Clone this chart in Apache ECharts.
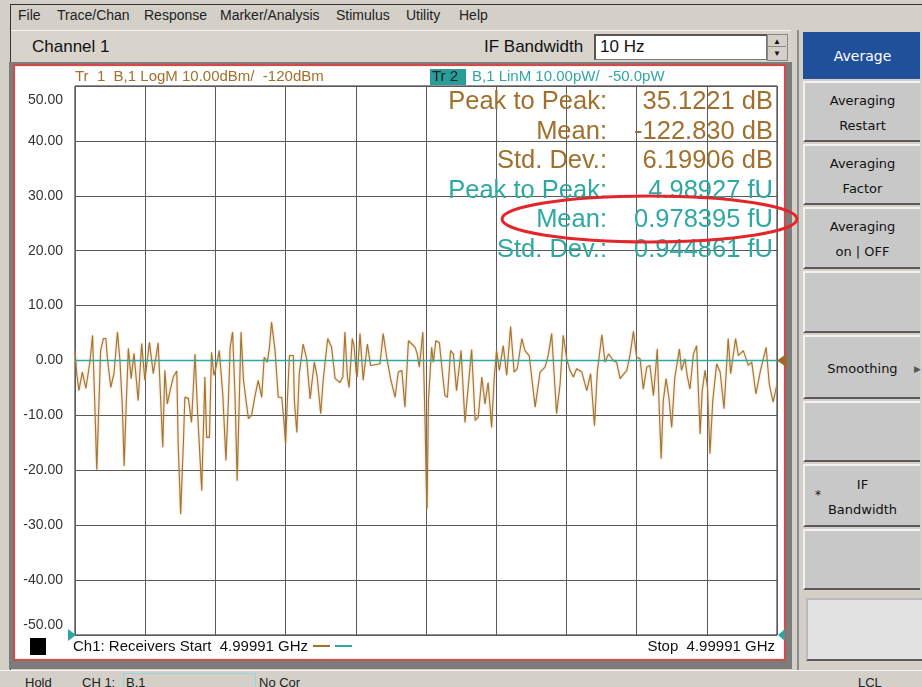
<!DOCTYPE html>
<html>
<head>
<meta charset="utf-8">
<script src="https://cdn.jsdelivr.net/npm/echarts@6/dist/echarts.min.js"></script>
<style>
  html, body { margin: 0; padding: 0; }
  body { width: 922px; height: 687px; position: relative; overflow: hidden; background: #d4d0c8; font-family: "Liberation Sans", Arial, sans-serif; }
  .abs { position: absolute; }
  .menu { top: 7px; font-size: 14px; color: #222; }
  .toolbar { left: 11px; top: 30px; width: 780px; height: 32px; background: #d8d4cc; border-top: 1px solid #f4f4f4; }
  .frame { left: 9px; top: 62px; width: 783px; height: 607px; background: #7c7c7c; }
  .panel { left: 13px; top: 64px; width: 769px; height: 593px; background: #fff; border: 2px solid #d24a4a; box-shadow: inset 0 0 0 1px #eee; }
  .side { left: 797px; top: 30px; width: 125px; height: 640px; background: #d4d0c8; border-left: 2px solid #8c8c8c; }
  .btn { position: absolute; left: 803px; width: 117px; background: #c8c8c8; border-top: 2px solid #f2f2f2; border-left: 2px solid #f2f2f2; border-bottom: 2px solid #5a5a5a; box-sizing: border-box;
         font-family: "DejaVu Sans", sans-serif; font-size: 13px; color: #111; text-align: center; display: flex; flex-direction: column; justify-content: center; line-height: 25px; padding-top: 2px; }
  .status { left: 0; top: 670px; width: 922px; height: 17px; background: #d4d0c8; border-top: 1px solid #f4f4f4; font-size: 13px; color: #222; }
  #chart { position: absolute; left: 0; top: 0; width: 922px; height: 687px; }
</style>
</head>
<body>
<div class="abs" style="left:10px;top:4px;width:912px;height:1px;background:#333"></div>
<div class="abs" style="left:10px;top:4px;width:1px;height:683px;background:#333"></div>
<div class="abs menu" style="left:18px">File</div>
<div class="abs menu" style="left:57px">Trace/Chan</div>
<div class="abs menu" style="left:144px">Response</div>
<div class="abs menu" style="left:220px">Marker/Analysis</div>
<div class="abs menu" style="left:336px">Stimulus</div>
<div class="abs menu" style="left:406px">Utility</div>
<div class="abs menu" style="left:459px">Help</div>

<div class="abs toolbar"></div>
<div class="abs" style="left:32px;top:37px;font-size:17px;color:#111">Channel 1</div>
<div class="abs" style="left:484px;top:37px;font-size:17px;color:#111">IF Bandwidth</div>
<div class="abs" style="left:594px;top:34px;width:170px;height:23px;background:#fff;border:1px solid #777;border-top:2px solid #555;border-left:2px solid #555"></div>
<div class="abs" style="left:600px;top:37px;font-size:17px;color:#111">10 Hz</div>
<div class="abs" style="left:767px;top:34px;width:19px;height:25px;background:#d4d0c8;border:1px solid #888"></div>
<div class="abs" style="left:768px;top:46px;width:18px;height:1px;background:#888"></div>
<div class="abs" style="left:773px;top:37px;font-size:8px;color:#111">&#9650;</div>
<div class="abs" style="left:773px;top:49px;font-size:8px;color:#111">&#9660;</div>

<div class="abs frame"></div>
<div class="abs panel"></div>

<div class="abs side"></div>
<div class="btn" style="top:32px;height:47px;background:#21509a;color:#fff;font-size:14px;border-color:#21509a">Average</div>
<div class="btn" style="top:81px;height:61px">Averaging<br>Restart</div>
<div class="btn" style="top:144px;height:61px">Averaging<br>Factor</div>
<div class="btn" style="top:207px;height:62px">Averaging<br>on | OFF</div>
<div class="btn" style="top:271px;height:62px"></div>
<div class="btn" style="top:335px;height:64px">Smoothing<span style="position:absolute;right:-1px;top:20px;font-size:9px;color:#555">&#9654;</span></div>
<div class="btn" style="top:401px;height:61px"></div>
<div class="btn" style="top:464px;height:63px">IF<br>Bandwidth<span style="position:absolute;left:10px;top:17px;font-size:12px">*</span></div>
<div class="btn" style="top:529px;height:61px"></div>
<div class="btn" style="top:598px;left:806px;width:116px;height:63px;background:#e2e2e2;border-top-color:#bbb;border-left-color:#bbb"></div>

<div class="abs status"></div>
<div class="abs" style="left:25px;top:675px;font-size:13px;color:#222">Hold</div>
<div class="abs" style="left:82px;top:675px;font-size:13px;color:#222">CH 1:</div>
<div class="abs" style="left:123px;top:673px;width:131px;height:16px;border:1px solid #8fd8e0"></div>
<div class="abs" style="left:126px;top:675px;font-size:13px;color:#222">B,1</div>
<div class="abs" style="left:259px;top:675px;font-size:13px;color:#222">No Cor</div>
<div class="abs" style="left:858px;top:675px;font-size:13px;color:#222">LCL</div>

<div id="chart"></div>

<script>
// sweep point number (0..200, 201-point sweep) and trace values
const sweepPoint = [0, 0.5, 1.1, 2.1, 3.1, 4.3, 5.0, 5.7, 6.2, 6.6, 7.3, 8.1, 8.8, 9.2, 10.2, 11.1, 12.1, 12.8, 13.5, 14.0,
  14.6, 15.2, 16.0, 16.8, 18.0, 19.0, 19.9, 21.2, 22.3, 23.7, 25.0, 25.6, 26.3, 27.1, 28.0, 29.0, 29.4, 30.1, 30.9, 31.3,
  32.3, 33.2, 34.2, 34.9, 36.1, 37.0, 37.5, 38.3, 38.9, 39.6, 40.2, 41.1, 42.1, 43.0, 43.7, 44.2, 44.9, 45.6, 46.2, 46.8,
  47.3, 48.0, 49.4, 50.3, 51.3, 52.2, 53.2, 53.9, 54.8, 55.4, 56.0, 57.0, 57.9, 58.9, 59.5, 60.0, 60.5, 61.1, 62.2, 62.5,
  63.2, 63.9, 65.0, 66.0, 67.0, 67.4, 68.2, 69.0, 70.0, 70.7, 72.0, 73.1, 74.1, 75.5, 76.3, 76.9, 77.6, 78.1, 79.0, 79.5,
  80.1, 80.4, 81.2, 82.1, 83.3, 84.2, 86.9, 87.8, 88.8, 89.9, 91.2, 92.1, 93.1, 94.0, 95.0, 96.9, 97.5, 98.1, 99.1, 99.7,
  100.1, 100.3, 100.7, 101.6, 102.1, 102.8, 103.8, 104.8, 105.4, 106.1, 107.0, 107.8, 108.7, 110.0, 111.1, 112.1, 113.0, 114.0, 114.9, 115.9,
  116.8, 117.7, 118.7, 119.4, 120.1, 120.9, 122.0, 123.0, 124.1, 125.1, 126.0, 127.3, 128.2, 129.4, 131.1, 132.5, 133.9, 134.8, 135.8, 137.2,
  138.2, 139.1, 140.1, 141.0, 142.0, 142.9, 144.4, 145.8, 146.9, 148.0, 148.8, 150.1, 151.0, 152.0, 153.4, 154.3, 155.3, 157.2, 158.1, 159.1,
  160.0, 161.0, 161.9, 162.9, 163.8, 164.8, 165.9, 166.5, 167.0, 167.6, 168.4, 169.2, 170.0, 170.9, 172.2, 172.8, 173.8, 174.4, 175.2, 176.2,
  177.1, 178.1, 178.7, 179.5, 180.2, 180.9, 181.7, 182.8, 183.8, 184.9, 186.1, 186.8, 188.2, 189.0, 190.4, 191.8, 192.8, 194.0, 195.3, 196.9,
  197.8, 198.9, 199.9, 200];
// Tr 1, LogM (dB relative to reference)
const logMag = [1.8, -2.4, -5.5, -2.1, -5.1, 0, 4.6, -9.1, -19.9, -12.2, 1.8, 4.0, 4.0, 0.6, -4.9, -2.4, 5.2, 0, -8.5, -19.2,
  -7.9, 2.2, -3.3, 1.3, -7.3, 3.1, -3.6, 3.3, -2.4, 3.2, -15.8, -1.8, -7.9, -5.5, -3.0, -1.9, -15.2, -28, -14.6, -6.7,
  -6.9, -11.3, 1.2, -9.1, -23.7, -3.0, -14, -14, 1.5, -2.7, -1.2, 1.8, -6.1, -18.2, -7.3, 2.4, 5.2, -6.7, -21.9, -7.3,
  5.2, -3.6, -10.6, -10.0, -6.4, -3.6, -6.7, 0.6, -0.3, 2.4, 7.0, 1.8, -6.7, -6.7, -10.9, -15.2, -7.3, 0.9, 0.9, -7.3,
  -13.1, -2.4, 3.0, 0.3, -7.0, -4.6, -0.3, -3.0, -9.7, -3.6, 4.0, 2.4, -3.3, -4.0, -3.0, 5.2, -3.0, -4.9, 4.0, 2.7,
  -2.1, -3.0, 4.9, -3.6, 3.0, -0.9, -0.6, 4.9, 0.6, -3.3, -6.7, -2.1, -1.8, -8.5, 3.6, 2.4, 1.2, -1.2, 5.2, -10.3,
  -23.1, -27, -7.3, 2.4, -0.3, 3.6, 3.3, -3.0, -6.4, -6.7, 1.8, 1.2, -5.5, 1.8, -11.3, -4.3, 2.0, -10.9, -10.3, -3.0,
  -7.9, -4.0, -12.2, -3.6, 1.8, -1.8, 2.7, -2.7, 6.2, -2.1, -1.5, 4.0, 1.8, 0.9, -8.5, -2.1, -1.2, 0.9, 4.9, -9.7,
  -4.3, 4.6, 0.3, -1.8, -3.0, -1.5, -2.1, -5.5, -2.4, -11.9, -2.1, 4.7, -0.3, 1.2, 0, -0.3, -3.3, -1.8, 0.9, 5.3,
  0.6, 0.3, -5.2, -1.2, -0.9, -6.4, 2.1, -9.7, -17.9, -7.3, -3.3, -6.7, -12.2, -3.0, 2.1, -1.8, 0.3, -2.7, -5.2, 1.2,
  2.7, -13.4, -5.5, -1.8, -4.9, -17.0, -7.3, -0.6, -2.1, -8.8, 4.0, -2.4, 4.0, 0.9, 1.8, -0.9, -0.3, -6.1, -1.8, 2.4,
  -4.3, -7.6, -4.6, -5.0];
// Tr 2, LinM (pW), flat at its mean across the sweep
const linSweep = [0, 200];
const linMag = [0.000978, 0.000978];

const yTicks = { min: -50, max: 50, step: 10 };
const statLabels = ['Peak to Peak:', 'Mean:', 'Std. Dev.:', 'Peak to Peak:', 'Mean:', 'Std. Dev.:'];
const statValues = ['35.1221 dB', '-122.830 dB', '6.19906 dB', '4.98927 fU', '0.978395 fU', '0.944861 fU'];

const BROWN = '#a0702c';
const TEAL = '#2fa8a2';
const FONT = '"Liberation Sans", Arial';

const chart = echarts.init(document.getElementById('chart'));

const statGraphics = [];
statLabels.forEach((lab, i) => {
  const col = i < 3 ? BROWN : TEAL;
  const y = 102 + i * 29.5;
  statGraphics.push({ type: 'text', id: 'lab' + i, x: 607, y: y, z: 10,
    style: { text: lab, fill: col, font: '25.5px ' + FONT, textAlign: 'right', textVerticalAlign: 'middle' } });
  statGraphics.push({ type: 'text', id: 'val' + i, x: 773, y: y, z: 10,
    style: { text: statValues[i], fill: col, font: '25.5px ' + FONT, textAlign: 'right', textVerticalAlign: 'middle' } });
});

chart.setOption({
  animation: false,
  grid: { left: 75, top: 86, width: 702, height: 549, show: true, backgroundColor: '#fff', borderColor: '#222', borderWidth: 1 },
  xAxis: {
    type: 'value', min: 0, max: 200, interval: 20,
    axisLine: { show: false }, axisTick: { show: false }, axisLabel: { show: false },
    splitLine: { show: true, lineStyle: { color: '#5a5a5a', width: 1 } }
  },
  yAxis: [{
    type: 'value', min: yTicks.min, max: yTicks.max, interval: yTicks.step,
    axisLine: { show: false }, axisTick: { show: false },
    splitLine: { show: true, lineStyle: { color: '#5a5a5a', width: 1 } },
    axisLabel: {
      formatter: v => v === yTicks.max ? '{hi|' + v.toFixed(2) + '}' : v === yTicks.min ? '{lo|' + v.toFixed(2) + '}' : v.toFixed(2),
      color: '#333', fontSize: 14, fontFamily: 'Liberation Sans', margin: 12,
      verticalAlignMaxLabel: 'top', verticalAlignMinLabel: 'bottom',
      rich: {
        hi: { color: '#333', fontSize: 14, fontFamily: 'Liberation Sans', padding: [7, 0, 0, 0] },
        lo: { color: '#333', fontSize: 14, fontFamily: 'Liberation Sans', padding: [0, 0, 3, 0] }
      }
    }
  }, {
    type: 'value', min: -50, max: 50, show: false
  }],
  series: [{
    type: 'line', name: 'Tr 1', xAxisIndex: 0, yAxisIndex: 0,
    data: sweepPoint.map((p, i) => [p, logMag[i]]),
    showSymbol: false,
    lineStyle: { color: '#a6742f', width: 1.1, shadowColor: 'rgba(200,165,110,0.8)', shadowBlur: 2 },
    z: 3
  }, {
    type: 'line', name: 'Tr 2', yAxisIndex: 1,
    data: linSweep.map((p, i) => [p, linMag[i]]),
    showSymbol: false,
    lineStyle: { color: TEAL, width: 1.3 },
    z: 4
  }],
  graphic: [
    { type: 'text', id: 'hdr1', x: 75, y: 77, z: 10, style: { text: 'Tr  1  B,1 LogM 10.00dBm/  -120dBm', fill: BROWN, font: '15px ' + FONT, textVerticalAlign: 'middle' } },
    { type: 'rect', id: 'tr2box', shape: { x: 430, y: 69, width: 36, height: 16 }, z: 9, style: { fill: '#2a9d98' } },
    { type: 'text', id: 'tr2txt', x: 432, y: 77, z: 11, style: { text: 'Tr 2', fill: '#0d2222', font: '15px ' + FONT, textVerticalAlign: 'middle' } },
    { type: 'text', id: 'hdr2', x: 472, y: 77, z: 10, style: { text: 'B,1 LinM 10.00pW/  -50.0pW', fill: TEAL, font: '15px ' + FONT, textVerticalAlign: 'middle' } },
    ...statGraphics,
    { type: 'ellipse', id: 'ring', shape: { cx: 649.5, cy: 219, rx: 147.5, ry: 23 }, style: { fill: null, stroke: '#e3262b', lineWidth: 3 }, z: 20 },
    { type: 'rect', id: 'sq', shape: { x: 30, y: 638, width: 16, height: 17 }, style: { fill: '#000' } },
    { type: 'text', id: 'start', x: 73, y: 647, style: { text: 'Ch1: Receivers Start  4.99991 GHz', fill: '#111', font: '15px ' + FONT, textVerticalAlign: 'middle' } },
    { type: 'line', id: 'dash1', shape: { x1: 313, y1: 646, x2: 330, y2: 646 }, style: { stroke: BROWN, lineWidth: 2 } },
    { type: 'line', id: 'dash2', shape: { x1: 335, y1: 646, x2: 352, y2: 646 }, style: { stroke: TEAL, lineWidth: 2 } },
    { type: 'text', id: 'stop', x: 775, y: 647, style: { text: 'Stop  4.99991 GHz', fill: '#111', font: '15px ' + FONT, textAlign: 'right', textVerticalAlign: 'middle' } }
  ]
});

// reference markers placed from the axis scales
const refY = chart.convertToPixel({ yAxisIndex: 0 }, 0);
const x0 = chart.convertToPixel({ xAxisIndex: 0 }, 0);
const x1 = chart.convertToPixel({ xAxisIndex: 0 }, 200);
const yBot = chart.convertToPixel({ yAxisIndex: 0 }, -50);
chart.setOption({
  graphic: [
    { type: 'polygon', id: 'ref1', shape: { points: [[x1, refY], [x1 + 10, refY - 7], [x1 + 10, refY + 7]] }, style: { fill: '#a0682a' }, z: 15 },
    { type: 'polygon', id: 'startMk', shape: { points: [[x0 - 7, yBot - 6], [x0 + 1, yBot], [x0 - 7, yBot + 6]] }, style: { fill: '#2aa7a0' }, z: 15 },
    { type: 'polygon', id: 'stopMk', shape: { points: [[x1 + 1, yBot], [x1 + 8, yBot - 6], [x1 + 8, yBot + 6]] }, style: { fill: '#2aa7a0' }, z: 15 }
  ]
});
</script>
</body>
</html>
